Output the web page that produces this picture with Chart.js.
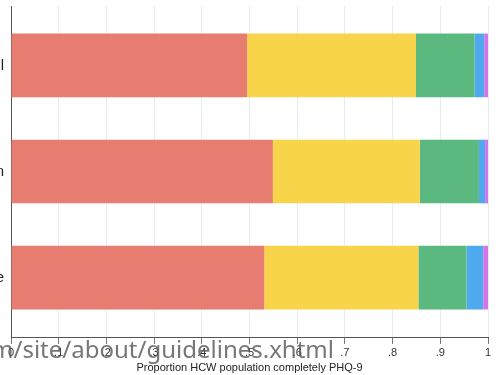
<!DOCTYPE html>
<html>
<head>
<meta charset="utf-8">
<script src="https://cdn.jsdelivr.net/npm/chart.js@4/dist/chart.umd.min.js"></script>
<style>
  html, body { margin: 0; padding: 0; background: #fff; overflow: hidden; }
  #wrap { position: absolute; left: -100px; top: 0; width: 600px; height: 375px; }
</style>
</head>
<body>
<div id="wrap"><canvas id="c" width="600" height="375"></canvas></div>
<script>
// Groups of health-care workers (top to bottom)
const groups = ['Overall', 'Physician', 'Nurse'];

// PHQ-9 severity shares per group
const none     = [0.495, 0.549, 0.531];
const mild     = [0.354, 0.308, 0.323];
const moderate = [0.123, 0.124, 0.101];
const modSev   = [0.020, 0.013, 0.035];
const severe   = [0.008, 0.006, 0.010];

// x-axis tick values and their printed labels
const xTicks      = [0, 0.1, 0.2, 0.3, 0.4, 0.5, 0.6, 0.7, 0.8, 0.9, 1];
const xTickLabels = ['0', '.1', '.2', '.3', '.4', '.5', '.6', '.7', '.8', '.9', '1'];

const xTitle = 'Proportion HCW population completely PHQ-9';
const stamp  = 'm/site/about/guidelines.xhtml';

const series = [
  { label: 'None-minimal',      values: none,     color: '#e77d71' },
  { label: 'Mild',              values: mild,     color: '#f8d44a' },
  { label: 'Moderate',          values: moderate, color: '#5bb87f' },
  { label: 'Moderately severe', values: modSev,   color: '#4fa9ee' },
  { label: 'Severe',            values: severe,   color: '#d872e8' }
];

const datasets = series.map(s => ({
  label: s.label,
  data: s.values.map((v, i) => ({ x: v, y: i })),
  backgroundColor: s.color,
  borderWidth: 0,
  barPercentage: 0.6,
  categoryPercentage: 1.0
}));

const stampPlugin = {
  id: 'stamp',
  afterDraw(chart) {
    const ctx = chart.ctx;
    ctx.save();
    ctx.font = '24px "Noto Sans"';
    ctx.fillStyle = 'rgba(80,80,80,0.78)';
    ctx.textAlign = 'right';
    ctx.textBaseline = 'alphabetic';
    ctx.fillText(stamp, 434, 358);
    ctx.restore();
  }
};

new Chart(document.getElementById('c'), {
  type: 'bar',
  data: { datasets },
  plugins: [stampPlugin],
  options: {
    indexAxis: 'y',
    responsive: false,
    animation: false,
    devicePixelRatio: 1,
    layout: { padding: { top: 6, right: 12, bottom: 0, left: 0 } },
    plugins: { legend: { display: false }, tooltip: { enabled: false } },
    scales: {
      x: {
        type: 'linear',
        stacked: true,
        min: 0,
        max: 1,
        offset: false,
        afterBuildTicks: s => { s.ticks = xTicks.map(v => ({ value: v })); },
        afterFit: s => { s.height = 38; },
        ticks: {
          autoSkip: false,
          maxRotation: 0,
          padding: 2,
          color: '#333',
          font: { family: '"Liberation Sans", Arial, sans-serif', size: 11 },
          callback: v => xTickLabels[xTicks.indexOf(v)] ?? ''
        },
        grid: { color: '#e4eef1', tickColor: '#777', tickLength: 7, offset: false },
        border: { display: true, color: '#555', width: 1 },
        title: {
          display: true,
          text: xTitle,
          color: '#222',
          font: { family: '"Liberation Sans", Arial, sans-serif', size: 11 },
          padding: { top: 0, bottom: 0 }
        }
      },
      y: {
        type: 'linear',
        stacked: true,
        reverse: true,
        offset: false,
        min: -0.56,
        max: 2.56,
        afterBuildTicks: s => { s.ticks = groups.map((g, i) => ({ value: i })); },
        afterFit: s => { s.width = 111; s.paddingTop = 0; s.paddingBottom = 0; },
        ticks: {
          padding: 7,
          color: '#222',
          font: { family: '"Liberation Sans", Arial, sans-serif', size: 15 },
          callback: v => groups[v] ?? ''
        },
        grid: { display: false, drawTicks: false, offset: false },
        border: { display: true, color: '#555', width: 1 }
      }
    }
  }
});
</script>
</body>
</html>
